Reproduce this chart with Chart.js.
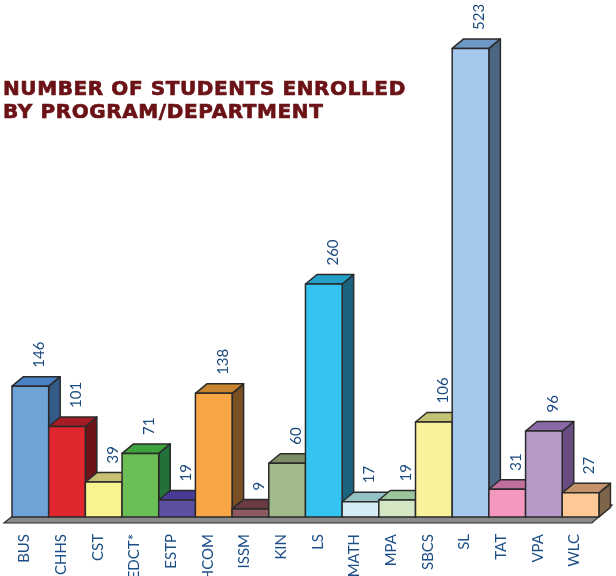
<!DOCTYPE html>
<html>
<head>
<meta charset="utf-8">
<script src="https://cdn.jsdelivr.net/npm/chart.js@4/dist/chart.umd.min.js"></script>
<style>
  html, body { margin: 0; padding: 0; background: #fff; }
  #wrap { position: relative; width: 616px; height: 576px; }
  #title {
    position: absolute; left: 3px; top: 77px;
    font-family: "DejaVu Sans", sans-serif; font-weight: bold;
    font-size: 20px; line-height: 22.5px; letter-spacing: 0.6px;
    color: #6b1216; white-space: nowrap;
    -webkit-text-stroke: 0.7px #6b1216;
  }
</style>
</head>
<body>
<div id="wrap">
  <canvas id="enrollChart" width="616" height="576"></canvas>
  <div id="title">NUMBER OF STUDENTS ENROLLED<br>BY PROGRAM/DEPARTMENT</div>
</div>
<script>
// Data
const programs = ["BUS", "CHHS", "CST", "EDCT*", "ESTP", "HCOM", "ISSM", "KIN", "LS", "MATH", "MPA", "SBCS", "SL", "TAT", "VPA", "WLC"];
const students = [146, 101, 39, 71, 19, 138, 9, 60, 260, 17, 19, 106, 523, 31, 96, 27];

// face colours for each bar: front, right side, top
const frontColors = ['#6fa3d8', '#e0262f', '#f8f28f', '#6bbd55', '#5c4ea0', '#f7a545', '#8c5a60', '#a2bb8c',
                     '#35c4f2', '#d4ecf4', '#d4e8c6', '#f8f29a', '#a4c8ec', '#f498c0', '#b69ac8', '#fec994'];
const sideColors  = ['#345a88', '#6e1418', '#8a8440', '#22703a', '#2e2470', '#7a4f22', '#4a2a2e', '#5a6a48',
                     '#1b6480', '#5a8a90', '#5a8a5a', '#8a8650', '#4a6682', '#8a4060', '#664c80', '#7e6448'];
const topColors   = ['#4a80c4', '#a51c24', '#c9c074', '#3ea23e', '#4a3a98', '#c98430', '#6a3a42', '#7c8c64',
                     '#23a0c8', '#92c2c4', '#9cc69c', '#c6c274', '#6e98c6', '#c0709a', '#8c6aa8', '#c4936c'];

const depthX = 11.5, depthY = 9.5;
const edge = '#2a2a2a';

function poly(ctx, pts, fill) {
    ctx.beginPath();
    ctx.moveTo(pts[0][0], pts[0][1]);
    for (let i = 1; i < pts.length; i++) ctx.lineTo(pts[i][0], pts[i][1]);
    ctx.closePath();
    ctx.fillStyle = fill;
    ctx.fill();
    ctx.stroke();
}

// draws the floor, the 3d boxes and the value labels
const bars3d = {
    id: 'bars3d',
    beforeDatasetsDraw(chart) {
        const ctx = chart.ctx;
        const area = chart.chartArea;
        const base = chart.scales.y.getPixelForValue(0);
        ctx.save();
        ctx.strokeStyle = edge;
        ctx.lineWidth = 1.2;
        poly(ctx, [[area.left - 8, base + 6], [area.right - 7, base + 6],
                   [area.right + 13, base - 12], [area.left + 11, base - 9.5]], '#8a8a8a');
        ctx.restore();
    },
    afterDatasetsDraw(chart) {
        const ctx = chart.ctx;
        const bars = chart.getDatasetMeta(0).data;
        ctx.save();
        ctx.strokeStyle = edge;
        ctx.lineWidth = 1.5;
        ctx.lineJoin = 'round';
        bars.forEach((bar, i) => {
            const l = bar.x - bar.width / 2, r = bar.x + bar.width / 2;
            const t = bar.y, b = bar.base;
            poly(ctx, [[r, t], [r + depthX, t - depthY], [r + depthX, b - depthY], [r, b]], sideColors[i]);
            poly(ctx, [[l, t], [l + depthX, t - depthY], [r + depthX, t - depthY], [r, t]], topColors[i]);
            poly(ctx, [[l, t], [r, t], [r, b], [l, b]], frontColors[i]);
        });
        ctx.fillStyle = '#1c4a7e';
        ctx.font = '15px Lato, sans-serif';
        ctx.textAlign = 'left';
        ctx.textBaseline = 'middle';
        bars.forEach((bar, i) => {
            ctx.save();
            ctx.translate(bar.x + 9, bar.y - depthY - 9);
            ctx.rotate(-Math.PI / 2);
            ctx.fillText(String(students[i]), 0, 0);
            ctx.restore();
        });
        ctx.restore();
    }
};

const enroll_config = {
    type: 'bar',
    data: {
        labels: programs,
        datasets: [{
            label: 'Students',
            data: students,
            backgroundColor: 'rgba(0,0,0,0)',
            borderWidth: 0,
            barPercentage: 1,
            categoryPercentage: 1
        }]
    },
    options: {
        responsive: false,
        animation: false,
        layout: { padding: { left: 12, right: 13, top: 0, bottom: 0 } },
        plugins: {
            legend: { display: false },
            tooltip: { enabled: false },
            title: { display: false }
        },
        scales: {
            x: {
                grid: { display: false, drawTicks: false },
                border: { display: false },
                ticks: {
                    color: '#1c4f88',
                    font: { family: 'Lato', size: 15 },
                    minRotation: 90,
                    maxRotation: 90,
                    labelOffset: -6,
                    padding: 17,
                    autoSkip: false
                },
                afterFit(scale) { scale.height = 59; }
            },
            y: {
                display: false,
                min: 0,
                max: 577
            }
        }
    },
    plugins: [bars3d]
};

const enrollChart = new Chart(document.getElementById('enrollChart'), enroll_config);
</script>
</body>
</html>
